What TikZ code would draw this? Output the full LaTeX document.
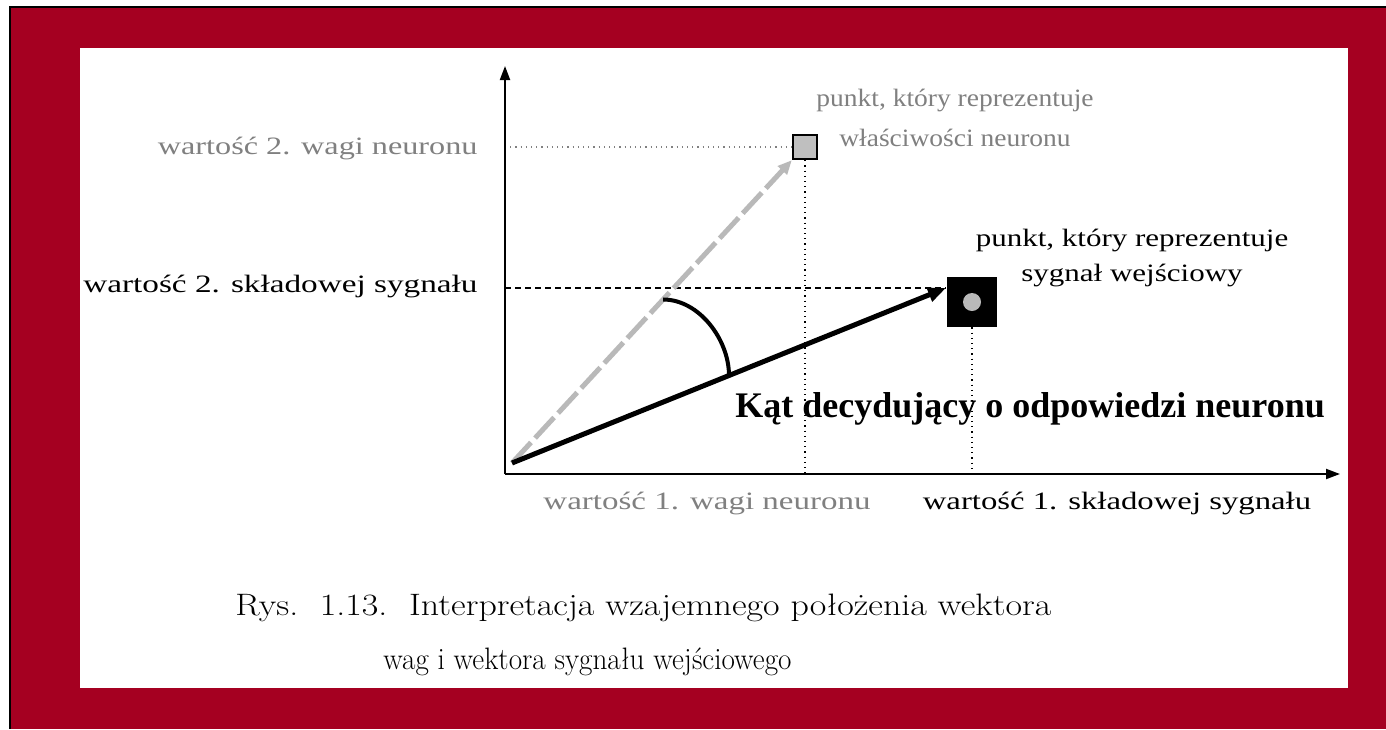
\documentclass[tikz,border=0pt]{standalone}
\usepackage{fontspec}
\newfontfamily\tnr{Liberation Serif}
\usetikzlibrary{positioning, arrows.meta, calc}
\definecolor{framered}{RGB}{165,0,33}
\newcommand{\hs}[2][1.3]{\scalebox{#1}[1]{#2}}

\begin{document}
\begin{tikzpicture}[
    x=0.5pt, y=-0.5pt,
    axis/.style={
        line width=1pt,
        -{Triangle[length=7pt, width=5pt]}
    },
    guide/.style={
        line width=0.6pt,
        dotted
    },
    wvec/.style={
        line width=2.5pt,
        gray!55,
        dash pattern=on 14pt off 3pt,
        -{Triangle[length=7pt, width=6pt]}
    },
    svec/.style={
        line width=2.5pt,
        black,
        -{Triangle[length=9pt, width=7pt]}
    },
    wbox/.style={
        rectangle,
        draw=black,
        line width=1.2pt,
        fill=gray!50,
        minimum size=12pt,
        inner sep=0pt
    },
    sbox/.style={
        rectangle,
        fill=black,
        minimum size=25pt,
        inner sep=0pt
    },
    lbl/.style={
        font=\tnr\fontsize{12.5}{15}\selectfont,
        inner sep=0pt
    },
    caption/.style={
        font=\fontsize{15.5}{19}\selectfont,
        inner sep=0pt,
        anchor=base west
    }
]

    % Frame
    \fill[white] (0,0) rectangle (1386,729);
    \fill[black] (9,6) rectangle (1386,729);
    \fill[framered] (11,8) rectangle (1386,729);
    \fill[white] (80,48) rectangle (1348,688);
    \useasboundingbox (0,0) rectangle (1386,729);

    % Points
    \coordinate (O) at (505,474);
    \coordinate (ytip) at (505,66);
    \coordinate (xtip) at (1340,474);
    \coordinate (vO) at (512,463);
    \node[wbox] (wpt) at (805,147) {};
    \node[sbox] (spt) at (972,302) {};
    \node[circle, fill=gray!55, minimum size=9pt, inner sep=0pt] (sdot) at (spt.center) {};
    \coordinate (stip) at (946,288);

    % Guide lines
    \draw[guide, gray] (O |- wpt) -- (wpt.west);
    \draw[guide] (wpt.south) -- (wpt |- O);
    \draw[line width=0.6pt, dash pattern=on 3pt off 2pt] (O |- stip) -- (stip);
    \draw[guide] (spt.south) -- (spt |- O);

    % Vectors
    \draw[wvec] (vO) -- (wpt.south west);
    \draw[svec] (vO) -- (stip);

    % Angle
    \coordinate (a1) at ($(vO)!0.54!(wpt.south west)$);
    \coordinate (a2) at ($(vO)!0.5!(stip)$);
    \draw[line width=2pt] (a1) .. controls +(36,0) and +(0,-36) .. (a2);

    % Axes
    \draw[axis] (O) -- (ytip);
    \draw[axis] (O) -- (xtip);

    % Labels
    \node[lbl, text=gray, anchor=base east] (lw2) at (478,154) {\hs[1.29]{wartość 2. wagi neuronu}};
    \node[lbl, anchor=base east] (ls2) at (478,292) {\hs[1.33]{wartość 2. składowej sygnału}};
    \node[lbl, text=gray, anchor=base] (lw1) at (707,509) {\hs[1.32]{wartość 1. wagi neuronu}};
    \node[lbl, anchor=base] (ls1) at (1117,509) {\hs[1.31]{wartość 1. składowej sygnału}};
    \node[lbl, text=gray, anchor=base] (pw1) at (955,106) {\hs[1.1]{punkt, który reprezentuje}};
    \node[lbl, text=gray, anchor=base] (pw2) at (955,146) {\hs[1.1]{właściwości neuronu}};
    \node[lbl, anchor=base] (ps1) at (1132,246) {\hs[1.24]{punkt, który reprezentuje}};
    \node[lbl, anchor=base] (ps2) at (1132,281) {\hs[1.24]{sygnał wejściowy}};
    \node[lbl, font=\tnr\bfseries\fontsize{18}{20}\selectfont, anchor=base west] (angle) at (735,417) {Kąt decydujący o odpowiedzi neuronu};

    % Caption
    \node[caption] (cap1) at (235,615) {\hs[1.16]{Rys.\ \ 1.13.\ \ Interpretacja wzajemnego położenia wektora}};
    \node[caption] (cap2) at (383,669) {\hs[0.94]{wag i wektora sygnału wejściowego}};

\end{tikzpicture}
\end{document}
